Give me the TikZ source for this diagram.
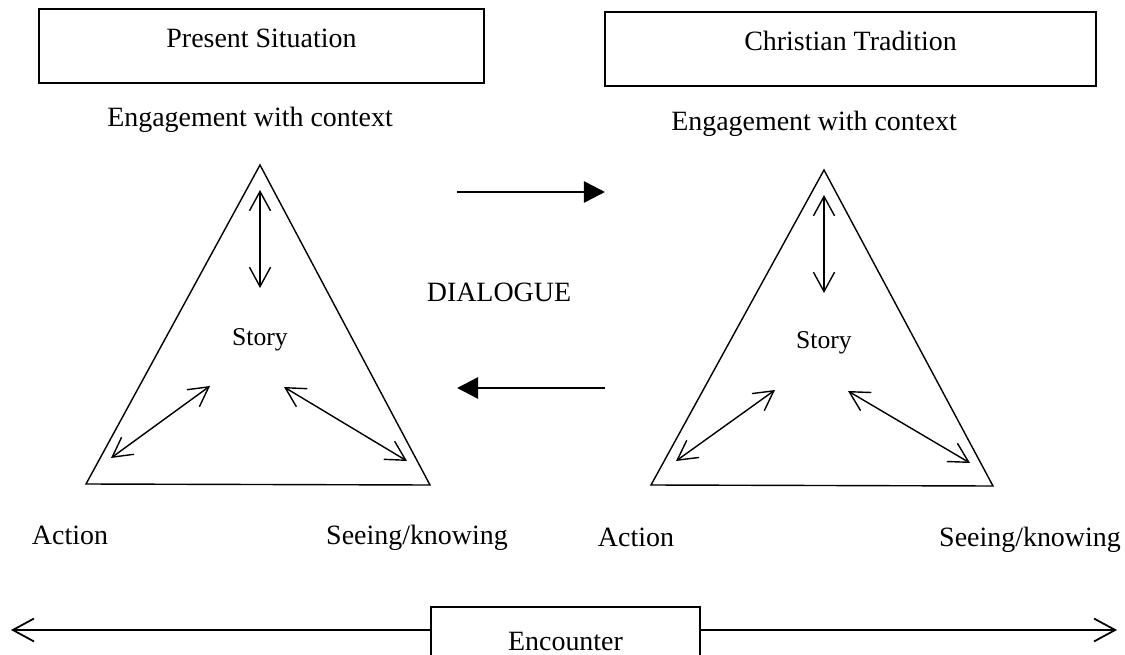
\documentclass[tikz,border=0pt]{standalone}
\usepackage{fontspec}
\setmainfont{Liberation Serif}
\usetikzlibrary{arrows.meta}

\tikzset{
  box/.style={draw, line width=1pt, inner sep=0pt, anchor=north,
    font=\fontsize{15.9}{19}\selectfont, text height=22pt, text depth=20pt},
  lbl/.style={anchor=base, inner sep=0pt, font=\fontsize{15.9}{19}\selectfont},
  storylbl/.style={anchor=base, inner sep=0pt, font=\fontsize{14.6}{17}\selectfont},
  twoway/.style={{Straight Barb[length=11pt,width=12pt]}-{Straight Barb[length=11pt,width=12pt]}, line width=0.8pt},
  talk/.style={-{Triangle[length=12pt,width=12pt]}, line width=1.4pt},
  reach/.style={-{Straight Barb[length=12pt,width=13pt]}, line width=1pt},
}

\begin{document}
\begin{tikzpicture}[x=0.02cm, y=-0.02cm]
  \useasboundingbox (0,0) rectangle (1125,655);

  % headings
  \node[box, minimum width=8.9cm] (present) at (261.5,8) {Present Situation};
  \node[box, minimum width=9.82cm] (tradition) at (850.5,11) {Christian Tradition};

  \node[lbl] (engL) at (250,127) {Engagement with context};
  \node[lbl] (engR) at (814,131) {Engagement with context};

  % left triangle
  \coordinate (apexL) at (260,165);
  \coordinate (baseLa) at (86,484);
  \coordinate (baseLb) at (430,485);
  \draw[line width=0.8pt] (apexL) -- (baseLa) -- (baseLb) -- cycle;
  \node[storylbl] (storyL) at (260,345) {Story};
  \coordinate (upL1) at (260,190);
  \coordinate (upL2) at (260,288);
  \coordinate (acL1) at (111,458);
  \coordinate (acL2) at (210,386);
  \coordinate (seL1) at (284,387);
  \coordinate (seL2) at (407,461);
  \draw[twoway] (upL1) -- (upL2);
  \draw[twoway] (acL1) -- (acL2);
  \draw[twoway] (seL1) -- (seL2);
  \node[lbl] (actionL) at (70,544) {Action};
  \node[lbl] (seeingL) at (417,544) {Seeing/knowing};

  % right triangle
  \coordinate (apexR) at (824,170);
  \coordinate (baseRa) at (651,485);
  \coordinate (baseRb) at (993,486);
  \draw[line width=0.8pt] (apexR) -- (baseRa) -- (baseRb) -- cycle;
  \node[storylbl] (storyR) at (824,348) {Story};
  \coordinate (upR1) at (824,195);
  \coordinate (upR2) at (824,293);
  \coordinate (acR1) at (676,461);
  \coordinate (acR2) at (775,390);
  \coordinate (seR1) at (848,391);
  \coordinate (seR2) at (970,463);
  \draw[twoway] (upR1) -- (upR2);
  \draw[twoway] (acR1) -- (acR2);
  \draw[twoway] (seR1) -- (seR2);
  \node[lbl] (actionR) at (636,546) {Action};
  \node[lbl] (seeingR) at (1030,546) {Seeing/knowing};

  % dialogue
  \node[lbl] (dialogue) at (499,301) {DIALOGUE};
  \coordinate (talkA) at (457,192);
  \coordinate (talkB) at (605,192);
  \coordinate (talkC) at (605,388);
  \coordinate (talkD) at (457,388);
  \draw[talk] (talkA) -- (talkB);
  \draw[talk] (talkC) -- (talkD);

  % encounter
  \node[box, minimum width=5.38cm, text height=25pt, text depth=9pt] (encounter) at (565.5,606) {Encounter};
  \coordinate (encL) at (11,630);
  \coordinate (encR) at (1117,630);
  \draw[reach] (encounter.west |- encL) -- (encL);
  \draw[reach] (encounter.east |- encR) -- (encR);
\end{tikzpicture}
\end{document}
